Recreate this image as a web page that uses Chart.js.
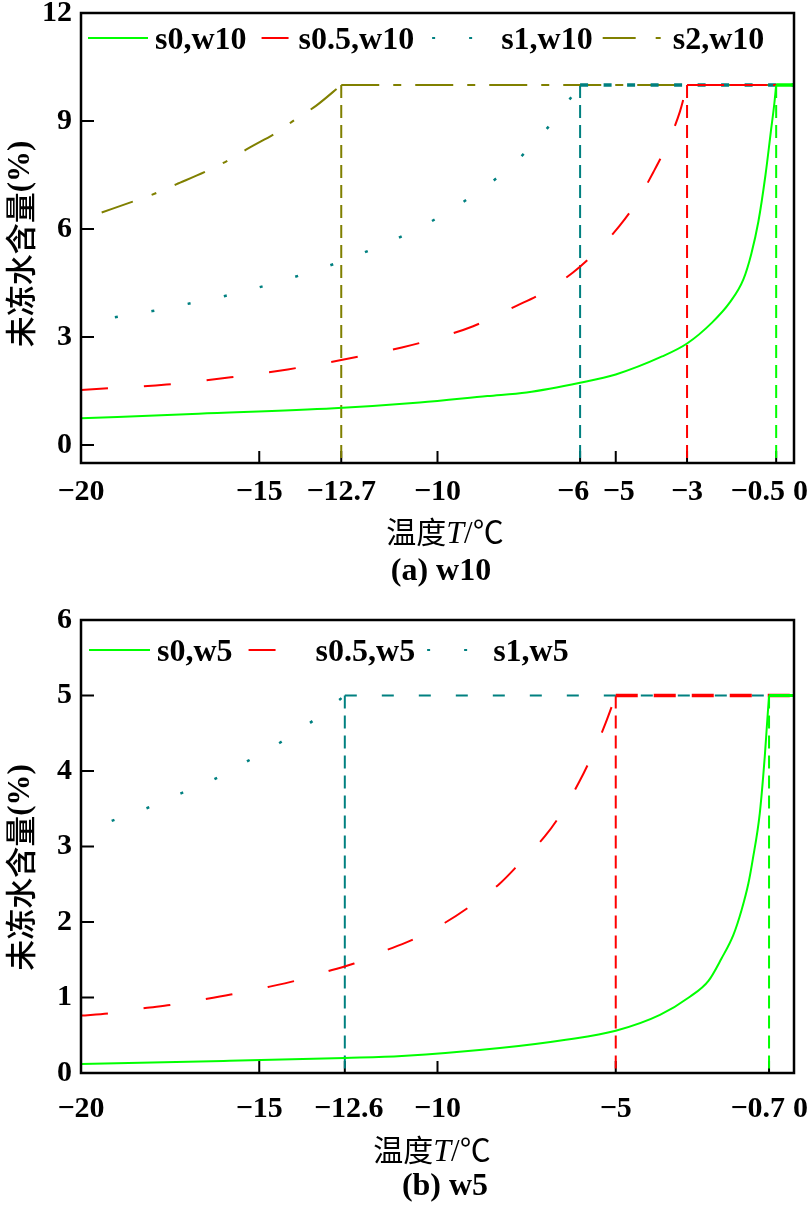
<!DOCTYPE html>
<html>
<head>
<meta charset="utf-8">
<script src="https://cdn.jsdelivr.net/npm/chart.js@4.4.1/dist/chart.umd.min.js"></script>
<style>
  body { margin: 0; background: #fff; }
  .box { position: absolute; left: 0; width: 811px; }
</style>
</head>
<body>
<div class="box" style="top:0;height:600px"><canvas id="chartA" width="811" height="600"></canvas></div>
<div class="box" style="top:600px;height:613px"><canvas id="chartB" width="811" height="613"></canvas></div>
<script>
// ===== (a) w10 =====
const tA_s0  = [-20, -16.7, -12.9, -10.5, -8.6, -7.5, -6, -5, -3.7, -3, -2.3, -1.8, -1.42, -1.2, -1, -0.8, -0.65, -0.55, -0.5];
const wA_s0  = [0.74, 0.87, 1.02, 1.18, 1.36, 1.46, 1.73, 1.96, 2.46, 2.82, 3.4, 3.96, 4.6, 5.3, 6.2, 7.5, 8.7, 9.5, 10];
const tA_s05 = [-20, -17.6, -15.8, -14.2, -12.7, -11, -10.4, -9, -7.8, -7.1, -6.2, -5.6, -4.9, -4.45, -3.95, -3.6, -3.2, -3];
const wA_s05 = [1.53, 1.68, 1.88, 2.1, 2.36, 2.71, 2.86, 3.3, 3.86, 4.2, 4.79, 5.32, 6.08, 6.69, 7.57, 8.26, 9.26, 10];
const tA_s1  = [-19.05, -18, -16.96, -15.96, -14.93, -13.9, -12.9, -11.9, -10.93, -9.98, -9.07, -8.17, -7.39, -6.68, -6];
const wA_s1  = [3.55, 3.72, 3.93, 4.14, 4.4, 4.7, 5.03, 5.41, 5.83, 6.32, 6.89, 7.55, 8.28, 9.09, 10];
const tA_s2  = [-19.42, -18.55, -17.94, -17.33, -16.47, -15.87, -15.31, -14.48, -13.95, -13.41, -12.7];
const wA_s2  = [6.46, 6.76, 6.98, 7.24, 7.61, 7.91, 8.24, 8.7, 9.07, 9.42, 10];
const freezeA = [-0.5, -3, -6, -12.7];   // s0, s0.5, s1, s2
const wMaxA = 10;
const xTicksA  = [-20, -15, -12.7, -10, -6, -5, -3, -0.5, 0];
const xLabelsA = ['−20', '−15', '−12.7', '−10', '−6', '−5', '−3', '−0.5', '0'];
const yTicksA  = [0, 3, 6, 9, 12];

// ===== (b) w5 =====
const tB_s0  = [-20, -16, -12.6, -11, -8.25, -6.4, -5, -3.76, -2.92, -2.4, -2.03, -1.7, -1.47, -1.28, -1.16, -0.96, -0.82, -0.76, -0.7];
const wB_s0  = [0.12, 0.16, 0.2, 0.225, 0.33, 0.44, 0.56, 0.77, 1.01, 1.22, 1.52, 1.83, 2.16, 2.51, 2.82, 3.44, 4.19, 4.6, 5];
const tB_s05 = [-20, -19.2, -18.2, -17.5, -16.5, -15.8, -14.75, -14, -13.06, -12.34, -11.36, -10.68, -9.79, -9.14, -8.25, -7.69, -6.98, -6.54, -6.02, -5.69, -5.28, -5];
const wB_s05 = [0.76, 0.79, 0.86, 0.9, 0.98, 1.04, 1.14, 1.22, 1.35, 1.45, 1.64, 1.77, 1.99, 2.19, 2.51, 2.78, 3.14, 3.43, 3.86, 4.18, 4.64, 5];
const tB_s1  = [-19.14, -18.14, -17.22, -16.27, -15.33, -14.4, -13.48, -12.6];
const wB_s1  = [3.34, 3.51, 3.7, 3.89, 4.13, 4.38, 4.67, 5];
const freezeB = [-0.7, -5, -12.6];       // s0, s0.5, s1
const wMaxB = 5;
const xTicksB  = [-20, -15, -12.6, -10, -5, -0.7, 0];
const xLabelsB = ['−20', '−15', '−12.6', '−10', '−5', '−0.7', '0'];
const yTicksB  = [0, 1, 2, 3, 4, 5, 6];

const GREEN = '#00ff00', RED = '#ff0000', TEAL = '#008080', OLIVE = '#808000';
const SERIF = '"Liberation Serif", "Times New Roman", "Noto Sans CJK SC", serif';
const CJK = '"Noto Sans CJK SC", sans-serif';

// 曲线
function curve(label, T, W, color, dash, width, lg) {
    return Object.assign({
        label: label, legendText: label,
        data: T.map((t, i) => ({x: t, y: W[i]})),
        borderColor: color, borderWidth: width, borderDash: dash,
        pointRadius: 0, fill: false, cubicInterpolationMode: 'monotone'
    }, lg);
}
// 冻结温度处的竖向虚线
function guide(tf, wmax, ymin, color) {
    return { data: [{x: tf, y: wmax}, {x: tf, y: ymin}], borderColor: color, borderWidth: 2,
             borderDash: [13, 7], pointRadius: 0, fill: false, tension: 0 };
}
// 冻结后水平段
function flat(tf, wmax, color, dash, width) {
    return { data: [{x: tf, y: wmax}, {x: 0, y: wmax}], borderColor: color, borderWidth: width,
             borderDash: dash, pointRadius: 0, fill: false, tension: 0 };
}

// ===== 边框、刻度、标题、图例 =====
const framePlugin = {
    id: 'frame',
    beforeDatasetsDraw(chart, args, o) {
        const {ctx, chartArea: a, scales: {x, y}} = chart;
        ctx.save();
        ctx.strokeStyle = '#000'; ctx.lineWidth = 2;
        ctx.beginPath();
        o.xTicks.forEach(v => {
            const px = x.getPixelForValue(v);
            if (px > a.left + 2 && px < a.right - 2) { ctx.moveTo(px, a.bottom); ctx.lineTo(px, a.bottom - 12); }
        });
        o.yTicks.forEach(v => {
            const py = y.getPixelForValue(v);
            if (py > a.top + 2 && py < a.bottom - 2) { ctx.moveTo(a.left, py); ctx.lineTo(a.left + 13, py); }
        });
        ctx.stroke();
        ctx.restore();
    },
    afterDraw(chart, args, o) {
        const {ctx, chartArea: a, scales: {x}} = chart;
        ctx.save();
        ctx.strokeStyle = '#000'; ctx.lineWidth = 2.5;
        ctx.strokeRect(a.left, a.top, a.right - a.left, a.bottom - a.top);

        // x tick labels (last two placed side by side)
        ctx.fillStyle = '#000';
        ctx.font = 'bold 30px ' + SERIF;
        ctx.textBaseline = 'alphabetic';
        const n = o.xTicks.length;
        const p0 = x.getPixelForValue(o.xTicks[n - 1]);
        o.xTicks.forEach((v, i) => {
            let px = x.getPixelForValue(v) + (o.nudge[o.xLabels[i]] || 0);
            ctx.textAlign = 'center';
            if (i === n - 1) { ctx.textAlign = 'left'; px = p0 - 1; }
            else if (i === n - 2) { ctx.textAlign = 'right'; px = p0 - 9; }
            ctx.fillText(o.xLabels[i], px, a.bottom + o.xLabelDy);
        });

        // x axis title 温度T/℃
        const parts = [
            {t: '温度', f: '30px ' + CJK},
            {t: 'T', f: 'italic 32px ' + SERIF},
            {t: '/℃', f: '31px ' + SERIF}
        ];
        let tw = 0;
        parts.forEach(p => { ctx.font = p.f; p.w = ctx.measureText(p.t).width; tw += p.w; });
        let tx = o.xTitleX - tw / 2;
        ctx.textAlign = 'left';
        parts.forEach(p => { ctx.font = p.f; ctx.fillText(p.t, tx, o.xTitleY); tx += p.w; });

        // caption
        ctx.font = 'bold 32px ' + SERIF;
        ctx.textAlign = 'center';
        ctx.fillText(o.caption, o.captionX, o.captionY);

        // y axis title
        ctx.save();
        ctx.translate(o.yTitleX, (a.top + a.bottom) / 2 + o.yTitleDy);
        ctx.rotate(-Math.PI / 2);
        ctx.textBaseline = 'middle';
        ctx.textAlign = 'left';
        ctx.font = '500 31px ' + CJK;
        const w1 = ctx.measureText('未冻水含量').width;
        ctx.font = 'bold 31px ' + SERIF;
        const w2 = ctx.measureText('(%)').width;
        ctx.font = '500 31px ' + CJK;
        ctx.fillText('未冻水含量', -(w1 + w2) / 2, 0);
        ctx.font = 'bold 31px ' + SERIF;
        ctx.fillText('(%)', -(w1 + w2) / 2 + w1, 1);
        ctx.restore();

        // legend (inside plot area)
        let lx = a.left + o.legendDx;
        const ly = a.top + o.legendDy;
        chart.data.datasets.forEach(ds => {
            if (!ds.legendText) return;
            ctx.strokeStyle = ds.borderColor; ctx.lineWidth = 2;
            ctx.setLineDash(ds.borderDash || []);
            ctx.beginPath(); ctx.moveTo(lx, ly); ctx.lineTo(lx + ds.legendLen, ly); ctx.stroke();
            ctx.setLineDash([]);
            ctx.font = 'bold 32px ' + SERIF;
            ctx.textAlign = 'left';
            ctx.textBaseline = 'alphabetic';
            const sx = lx + ds.legendLen + ds.legendGap;
            ctx.fillText(ds.legendText, sx, ly + 11);
            lx = sx + ctx.measureText(ds.legendText).width + ds.legendNext;
        });
        ctx.restore();
    }
};

function makeChart(id, datasets, yMin, yMax, yTicks, axisH, padTop, frameOpts) {
    return new Chart(document.getElementById(id), {
        type: 'line',
        data: { datasets: datasets },
        options: {
            responsive: false, animation: false, events: [],
            layout: { padding: { top: padTop, right: 17, bottom: 0, left: 0 } },
            scales: {
                x: { type: 'linear', min: -20, max: 0,
                     grid: { display: false }, border: { display: false }, ticks: { display: false },
                     afterFit: s => { s.height = axisH; } },
                y: { min: yMin, max: yMax,
                     grid: { display: false, drawTicks: false }, border: { display: false },
                     afterBuildTicks: s => { s.ticks = yTicks.map(v => ({value: v})); },
                     ticks: { color: '#000', padding: 9, font: { family: SERIF, size: 30, weight: 'bold' } },
                     afterFit: s => { s.width = 81; s.paddingTop = 0; s.paddingBottom = 0; } }
            },
            plugins: { legend: { display: false }, tooltip: { enabled: false }, frame: frameOpts }
        },
        plugins: [framePlugin]
    });
}

// ----- (a) -----
const dsA = [
    curve('s0,w10',   tA_s0,  wA_s0,  GREEN, [],            2,   {legendLen: 60, legendGap: 7,  legendNext: 15}),
    curve('s0.5,w10', tA_s05, wA_s05, RED,   [27, 36],      2,   {legendLen: 27, legendGap: 10, legendNext: 18}),
    curve('s1,w10',   tA_s1,  wA_s1,  TEAL,  [3, 34],       2.5, {legendLen: 42, legendGap: 27, legendNext: 10}),
    curve('s2,w10',   tA_s2,  wA_s2,  OLIVE, [33, 20, 5, 20], 2, {legendLen: 60, legendGap: 10, legendNext: 10}),
    flat(freezeA[0], wMaxA, GREEN, [], 3.5),
    flat(freezeA[1], wMaxA, RED,   [37, 6], 2),
    flat(freezeA[2], wMaxA, TEAL,  [8, 15.5], 3.5),
    flat(freezeA[3], wMaxA, OLIVE, [38, 14, 8, 14], 2),
    guide(freezeA[0], wMaxA, -0.5, GREEN),
    guide(freezeA[1], wMaxA, -0.5, RED),
    guide(freezeA[2], wMaxA, -0.5, TEAL),
    guide(freezeA[3], wMaxA, -0.5, OLIVE)
];
makeChart('chartA', dsA, -0.5, 12, yTicksA, 137, 13, {
    xTicks: xTicksA, xLabels: xLabelsA, yTicks: yTicksA, xLabelDy: 37, nudge: {'−6': -7, '−5': 3},
    xTitleX: 445, xTitleY: 543, caption: '(a) w10', captionX: 441, captionY: 580,
    yTitleX: 20, yTitleDy: 6, legendDx: 7, legendDy: 25
});

// ----- (b) -----
const dsB = [
    curve('s0,w5',   tB_s0,  wB_s0,  GREEN, [],       2,   {legendLen: 61, legendGap: 7,  legendNext: 16}),
    curve('s0.5,w5', tB_s05, wB_s05, RED,   [27, 36], 2,   {legendLen: 60, legendGap: 7,  legendNext: 12}),
    curve('s1,w5',   tB_s1,  wB_s1,  TEAL,  [3, 34],  2.5, {legendLen: 42, legendGap: 24, legendNext: 10}),
    flat(freezeB[0], wMaxB, GREEN, [], 3),
    flat(freezeB[1], wMaxB, RED,   [22, 16], 3.5),
    flat(freezeB[2], wMaxB, TEAL,  [12, 25], 2),
    guide(freezeB[0], wMaxB, 0, GREEN),
    guide(freezeB[1], wMaxB, 0, RED),
    guide(freezeB[2], wMaxB, 0, TEAL)
];
makeChart('chartB', dsB, 0, 6, yTicksB, 140, 20, {
    xTicks: xTicksB, xLabels: xLabelsB, yTicks: yTicksB, xLabelDy: 44, nudge: {'−12.6': 4},
    xTitleX: 432, xTitleY: 561, caption: '(b) w5', captionX: 445, captionY: 595,
    yTitleX: 20, yTitleDy: 21, legendDx: 8, legendDy: 30
});
</script>
</body>
</html>
